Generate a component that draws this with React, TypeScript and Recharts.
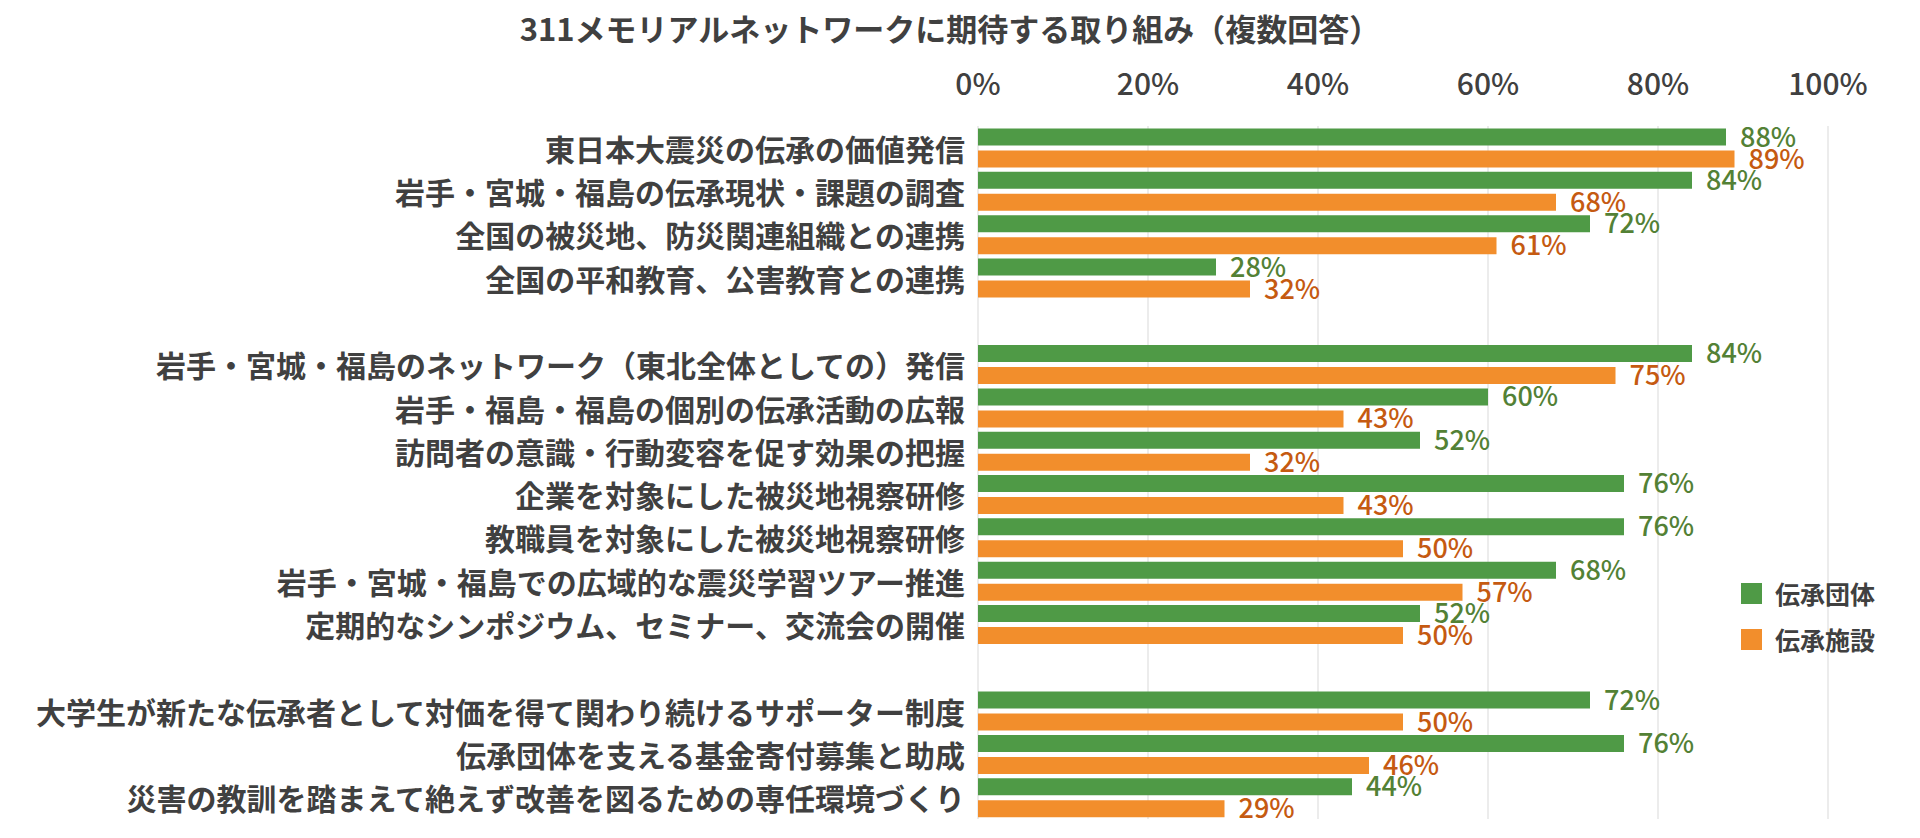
import { Bar, BarChart, CartesianGrid, LabelList, Legend, XAxis, YAxis } from "recharts";

document.body.style.margin = "0";

const FONT = '"Noto Sans CJK JP", "Noto Sans", sans-serif';
const TEXT = "#404040";

const categories = [
  "東日本大震災の伝承の価値発信",
  "岩手・宮城・福島の伝承現状・課題の調査",
  "全国の被災地、防災関連組織との連携",
  "全国の平和教育、公害教育との連携",
  " ",
  "岩手・宮城・福島のネットワーク（東北全体としての）発信",
  "岩手・福島・福島の個別の伝承活動の広報",
  "訪問者の意識・行動変容を促す効果の把握",
  "企業を対象にした被災地視察研修",
  "教職員を対象にした被災地視察研修",
  "岩手・宮城・福島での広域的な震災学習ツアー推進",
  "定期的なシンポジウム、セミナー、交流会の開催",
  "  ",
  "大学生が新たな伝承者として対価を得て関わり続けるサポーター制度",
  "伝承団体を支える基金寄付募集と助成",
  "災害の教訓を踏まえて絶えず改善を図るための専任環境づくり",
];

// 伝承団体
const groupValues = [88, 84, 72, 28, null, 84, 60, 52, 76, 76, 68, 52, null, 72, 76, 44];
// 伝承施設
const facilityValues = [89, 68, 61, 32, null, 75, 43, 32, 43, 50, 57, 50, null, 50, 46, 29];

const xTicks = [0, 20, 40, 60, 80, 100];
const seriesNames = ["伝承団体", "伝承施設"];
const barColors = ["#4f9a46", "#f28e2c"];
const labelColors = ["#538135", "#c55a11"];

const data = categories.map((name, i) => ({
  name,
  group: groupValues[i],
  facility: facilityValues[i],
}));

const pct = (v: any) => (v == null ? "" : `${v}%`);

function XTick({ x, payload }: any) {
  return (
    <text x={x} y={82} textAnchor="middle" dominantBaseline="central" fontSize={30} fontWeight={500} fill={TEXT} fontFamily={FONT}>
      {payload.value}%
    </text>
  );
}

function YTick({ x, y, payload }: any) {
  return (
    <text x={x} y={y} textAnchor="end" dominantBaseline="central" fontSize={30} fontWeight={700} fill={TEXT} fontFamily={FONT}>
      {payload.value}
    </text>
  );
}

function LegendBox() {
  return (
    <div style={{ fontFamily: FONT }}>
      {seriesNames.map((n, i) => (
        <div key={n} style={{ display: "flex", alignItems: "center", height: 46 }}>
          <span style={{ width: 21, height: 21, background: barColors[i], marginRight: 13 }} />
          <span style={{ fontSize: 25, fontWeight: 700, color: TEXT }}>{n}</span>
        </div>
      ))}
    </div>
  );
}

export default function App() {
  return (
    <div style={{ position: "relative", width: 1920, height: 838, background: "#fff", fontFamily: FONT }}>
      <div
        style={{
          position: "absolute",
          top: 0,
          left: 0,
          width: 1900,
          lineHeight: "56px",
          textAlign: "center",
          fontSize: 31,
          fontWeight: 700,
          color: TEXT,
          zIndex: 1,
        }}
      >
        311メモリアルネットワークに期待する取り組み（複数回答）
      </div>
      <BarChart
        width={1920}
        height={838}
        data={data}
        layout="vertical"
        margin={{ top: 0, right: 92, bottom: 19, left: 0 }}
        barCategoryGap={2.5}
        barGap={5}
      >
        <CartesianGrid horizontal={false} stroke="#d9d9d9" />
        <XAxis
          type="number"
          orientation="top"
          domain={[0, 100]}
          ticks={xTicks}
          height={126}
          axisLine={false}
          tickLine={false}
          tick={<XTick />}
        />
        <YAxis
          type="category"
          dataKey="name"
          width={978}
          axisLine={false}
          tickLine={false}
          tickSize={0}
          tickMargin={13}
          interval={0}
          tick={<YTick />}
        />
        <Legend
          layout="vertical"
          verticalAlign="middle"
          align="center"
          wrapperStyle={{ left: 1741, top: 570, width: 170 }}
          content={() => <LegendBox />}
        />
        <Bar dataKey="group" name={seriesNames[0]} fill={barColors[0]} isAnimationActive={false}>
          <LabelList dataKey="group" position="right" offset={14} formatter={pct} fill={labelColors[0]} fontSize={27} fontFamily={FONT} fontWeight={500} />
        </Bar>
        <Bar dataKey="facility" name={seriesNames[1]} fill={barColors[1]} isAnimationActive={false}>
          <LabelList dataKey="facility" position="right" offset={14} formatter={pct} fill={labelColors[1]} fontSize={27} fontFamily={FONT} fontWeight={500} />
        </Bar>
      </BarChart>
    </div>
  );
}
